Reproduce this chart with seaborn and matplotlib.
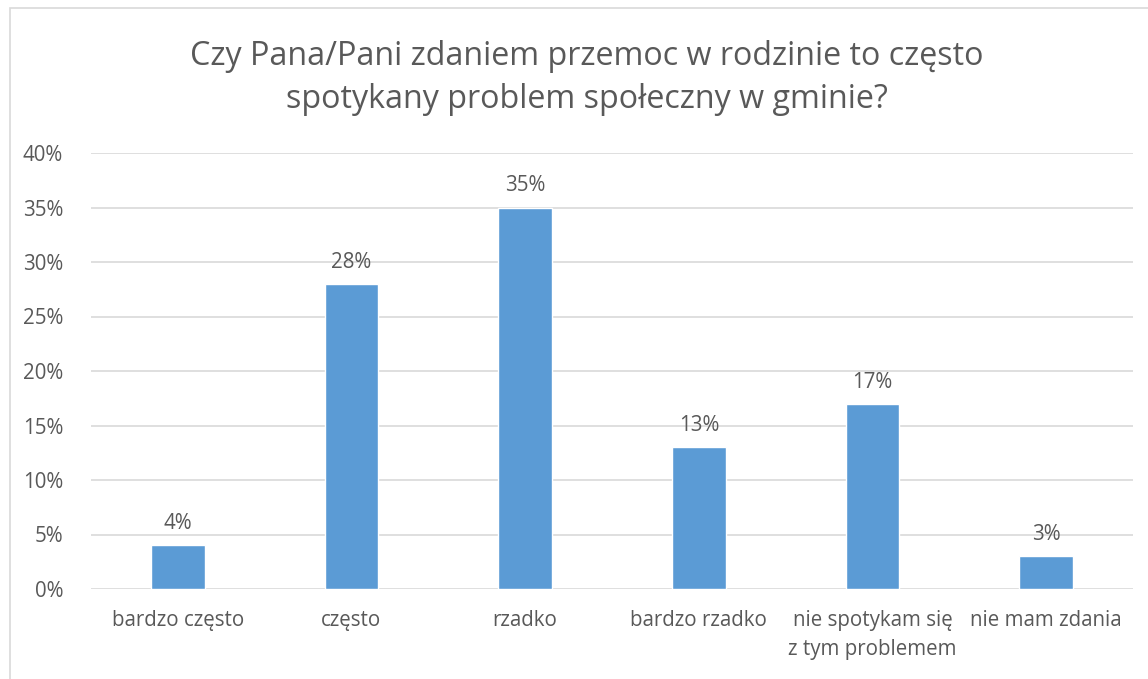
import matplotlib
matplotlib.use("Agg")
import matplotlib.pyplot as plt
import seaborn as sns
import pandas as pd
from matplotlib.patches import Rectangle
from matplotlib.ticker import PercentFormatter

categories = ["bardzo często", "często", "rzadko", "bardzo rzadko",
              "nie spotykam się\nz tym problemem", "nie mam zdania"]
values = [4, 28, 35, 13, 17, 3]
yticks = [0, 5, 10, 15, 20, 25, 30, 35, 40]
title = "Czy Pana/Pani zdaniem przemoc w rodzinie to często\nspotykany problem społeczny w gminie?"

sns.set_theme(style="white")
plt.rcParams['font.family'] = ['Open Sans', 'DejaVu Sans']

text_col = "#595959"
df = pd.DataFrame({"cat": categories, "val": values})

fig = plt.figure(figsize=(11.48, 6.79), dpi=100)
ax = fig.add_axes([91/1148, 1-589/679, (1133-91)/1148, (589-153)/679])
sns.barplot(data=df, x="cat", y="val", color="#5B9BD5", width=0.31,
            saturation=1, ax=ax, zorder=3)
ax.set_ylim(0, 40)
ax.set_yticks(yticks)
ax.yaxis.set_major_formatter(PercentFormatter(decimals=0))
ax.grid(axis="y", color="#D9D9D9", linewidth=1.2, zorder=0)
for s in ax.spines.values():
    s.set_visible(False)
ax.set_xlabel("")
ax.set_ylabel("")
ax.tick_params(axis="both", length=0, labelsize=14.8, colors=text_col)
ax.tick_params(axis="y", pad=20)
ax.tick_params(axis="x", pad=15)
for lab in ax.get_xticklabels():
    lab.set_linespacing(1.5)
for p, v in zip(ax.patches, values):
    ax.annotate(f"{v}%", (p.get_x() + p.get_width()/2, p.get_height()),
                xytext=(0, 8), textcoords="offset points", ha="center",
                va="bottom", fontsize=14.8, color=text_col)

fig.text(587/1148, 1-78/679, title, ha="center", va="center", fontsize=23.2,
         color=text_col, linespacing=1.4)

fig.add_artist(Rectangle((10/1148, -0.02), 1.05, 1-8/679+0.02,
                         transform=fig.transFigure, fill=False,
                         edgecolor="#D9D9D9", linewidth=1.2, clip_on=False))
fig.savefig("out.png", dpi=100)
